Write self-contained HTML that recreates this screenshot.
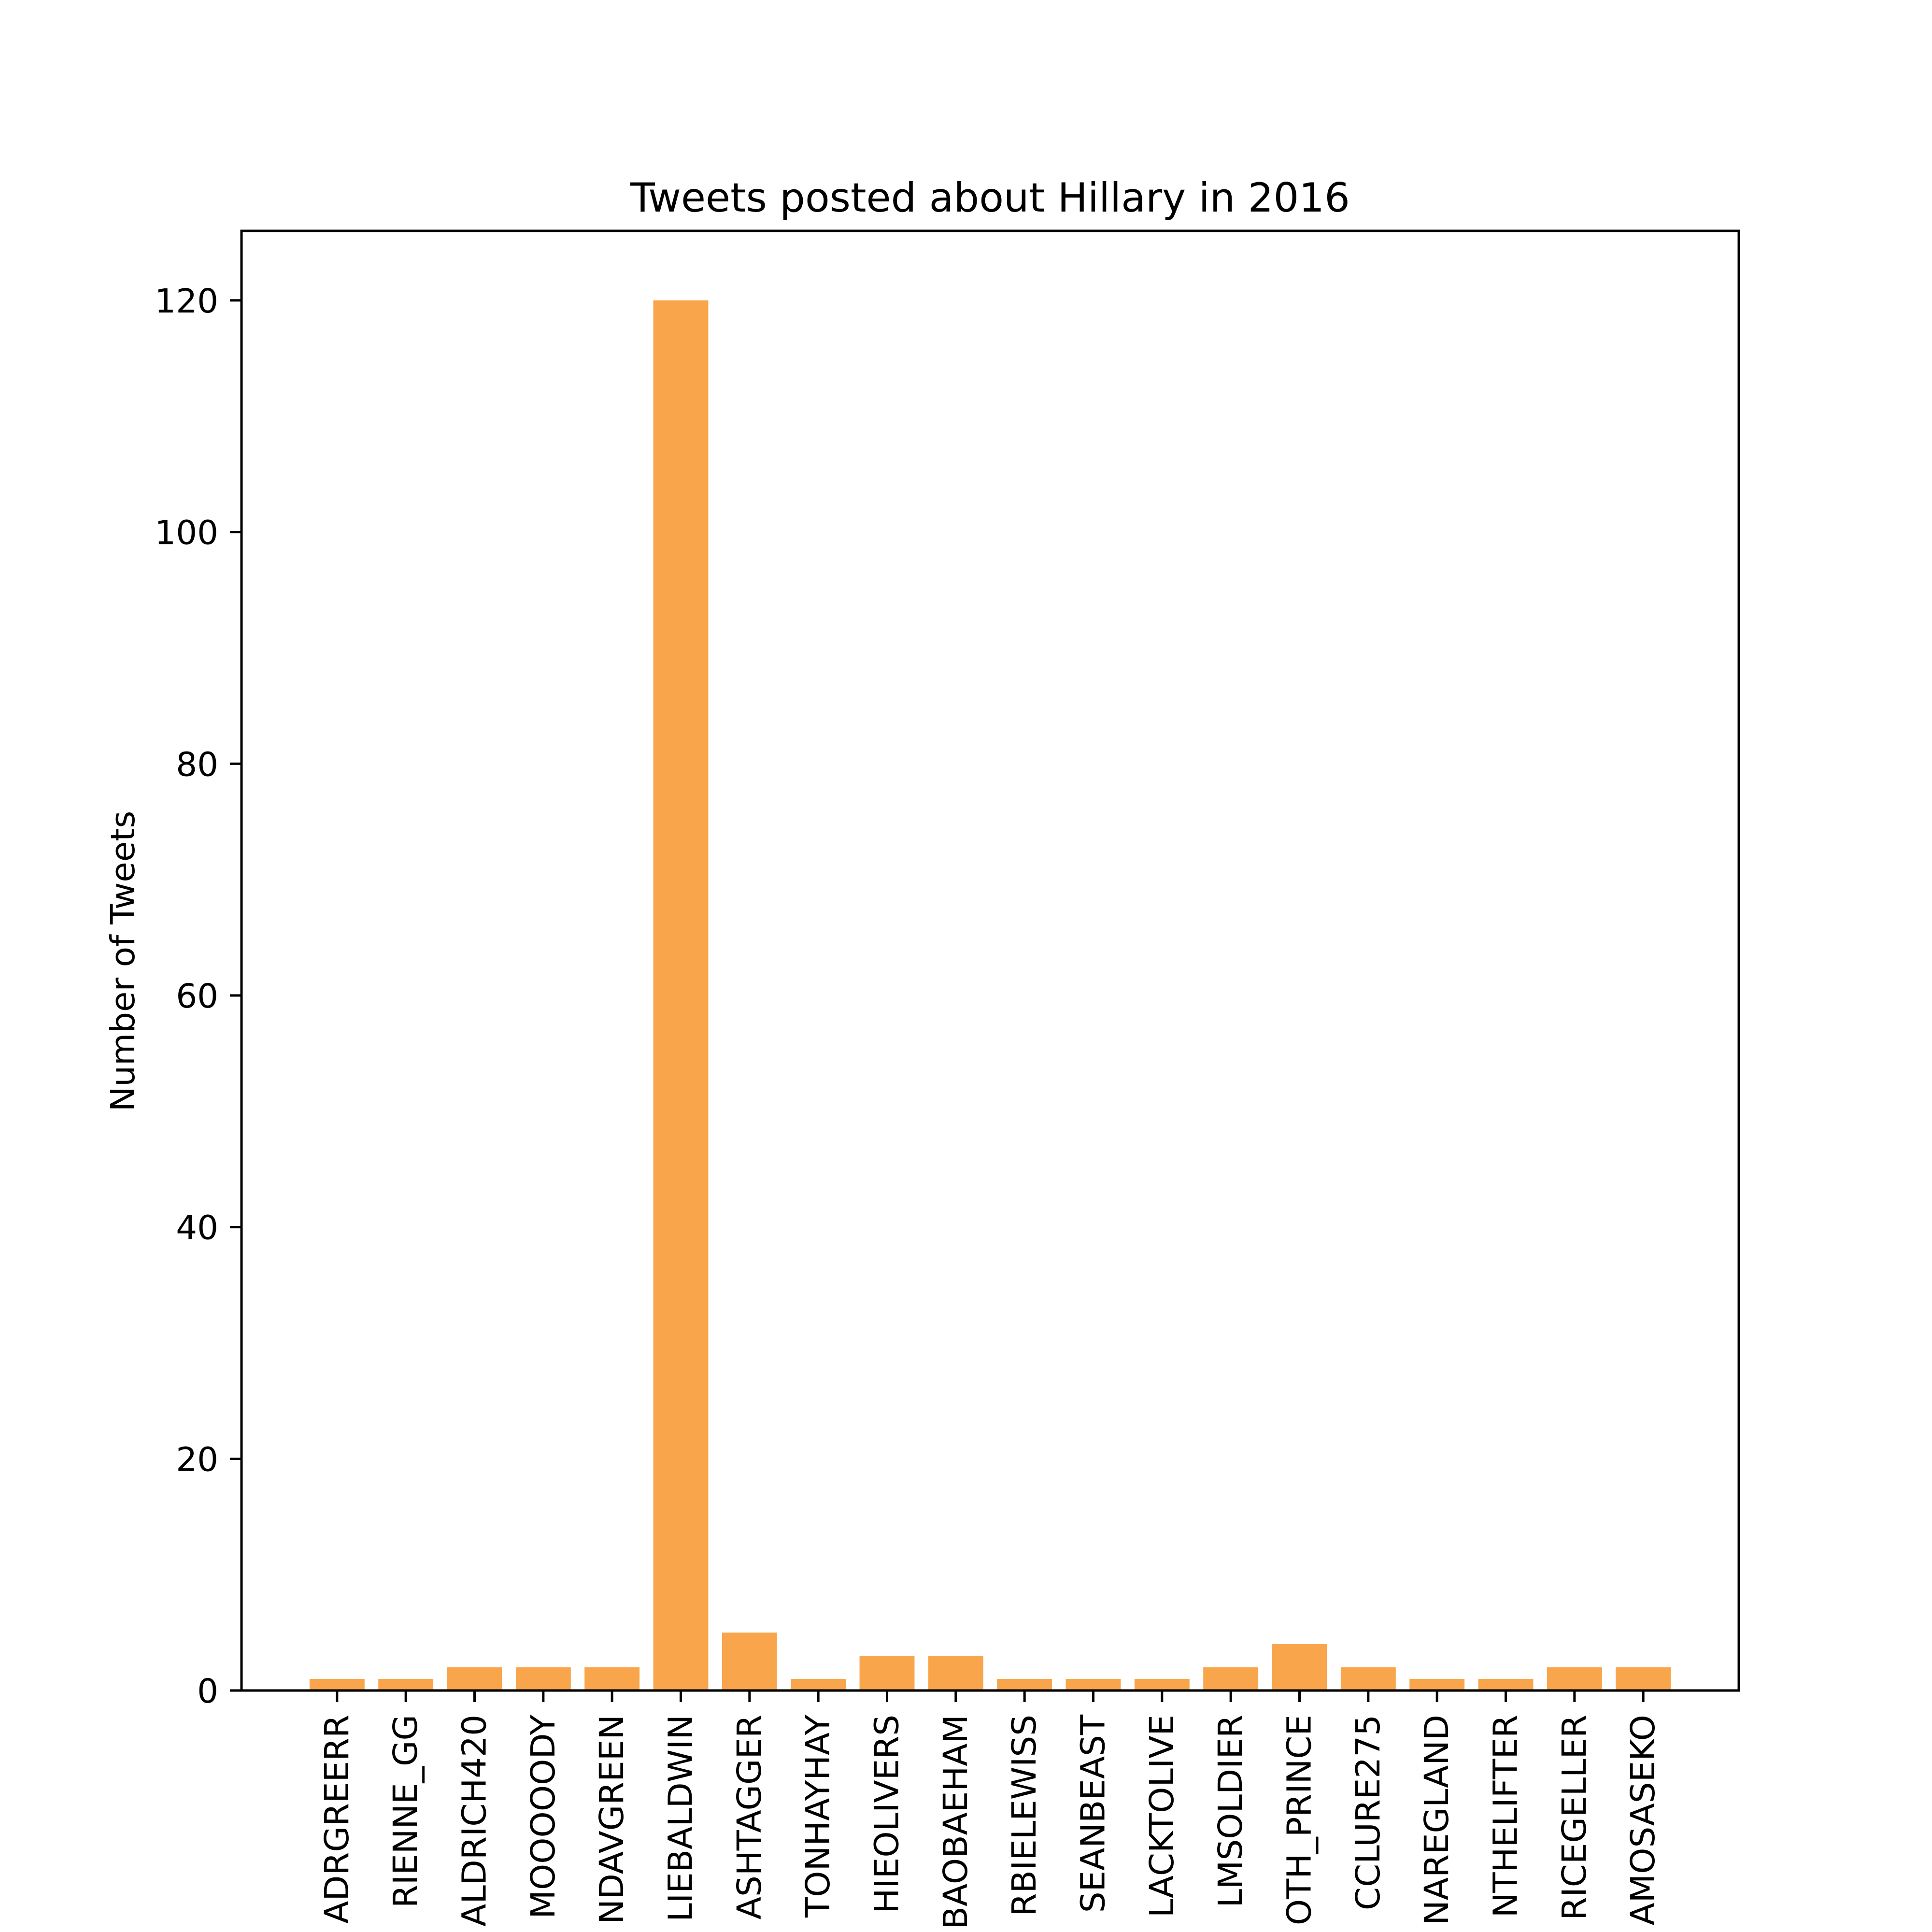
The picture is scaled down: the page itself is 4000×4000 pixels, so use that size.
<!DOCTYPE html>
<html><head><meta charset="utf-8"><style>html,body{margin:0;padding:0;background:#fff;width:4000px;height:4000px;overflow:hidden}svg{display:block}</style></head>
<body>
<svg id="chart" width="4000" height="4000" overflow="hidden" xmlns="http://www.w3.org/2000/svg" font-family="'DejaVu Sans','Liberation Sans',sans-serif">
<rect width="4000" height="4000" fill="#fff"/>
<text x="2050" y="438" font-size="83" text-anchor="middle">Tweets posted about Hillary in 2016</text>
<text x="0" y="0" font-size="69" text-anchor="middle" transform="translate(278,1990) rotate(-90)">Number of Tweets</text>
<g id="bars"></g><g id="yticks"></g><g id="xticks"></g>
<rect x="500" y="478" width="3100" height="3022" fill="none" stroke="#000" stroke-width="5"/>
</svg>
<script>
const categories=["ADRGREERR","ADRIENNE_GG","ALDRICH420","AMCMOOOOODY","AMANDAVGREEN","AMELIEBALDWIN","ANDYHASHTAGGER","ASHTONHAYHAY","ARCHIEOLIVERS","BAOBAEHAM","BARBIELEWISS","BIGSEANBEAST","BLACKTOLIVE","BLMSOLDIER","BOOTH_PRINCE","BRIANMCCLURE275","BRIANAREGLAND","BRYANTHELIFTER","BRICEGELLER","CAMOSASEKO"];
const values=[1,1,2,2,2,120,5,1,3,3,1,1,1,2,4,2,1,1,2,2];
const yTicks=[0,20,40,60,80,100,120];
const NS="http://www.w3.org/2000/svg";
const L=500,R=3600,T=478,B=3500,ymax=126;
const xmin=-1.39,xmax=categories.length-1+1.39;
function xs(i){return L+(i-xmin)/(xmax-xmin)*(R-L);}
function ys(v){return B-v/ymax*(B-T);}
function mk(t,a){const e=document.createElementNS(NS,t);for(const k in a)e.setAttribute(k,a[k]);return e;}
const bars=document.getElementById('bars'),yt=document.getElementById('yticks'),xt=document.getElementById('xticks');
const bw=0.8*(R-L)/(xmax-xmin);
values.forEach((v,i)=>{
  const r=mk('rect',{x:xs(i)-bw/2,y:ys(v),width:bw,height:B-ys(v),fill:'#f8a54c'});
  
  
  bars.appendChild(r);
  const tk=mk('line',{x1:xs(i),x2:xs(i),y1:B,y2:B+24,stroke:'#000','stroke-width':5});
  
  
  xt.appendChild(tk);
  const tx=mk('text',{x:0,y:0,'font-size':69,'text-anchor':'end','dominant-baseline':'central',transform:`translate(${xs(i)},3550) rotate(-90)`});
  
  
  xt.appendChild(tx);
  let s=categories[i];
  tx.textContent=s;
  while(s.length>1&&tx.getComputedTextLength()>445){s=s.slice(1);tx.textContent=s;}
});
yTicks.forEach(v=>{
  const tk=mk('line',{x1:L-24,x2:L,y1:ys(v),y2:ys(v),stroke:'#000','stroke-width':5});
  
  
  yt.appendChild(tk);
  const tx=mk('text',{x:L-48,y:ys(v)+25,'font-size':69,'text-anchor':'end'});
  tx.textContent=v;
  
  
  yt.appendChild(tx);
});
</script>
</body></html>
